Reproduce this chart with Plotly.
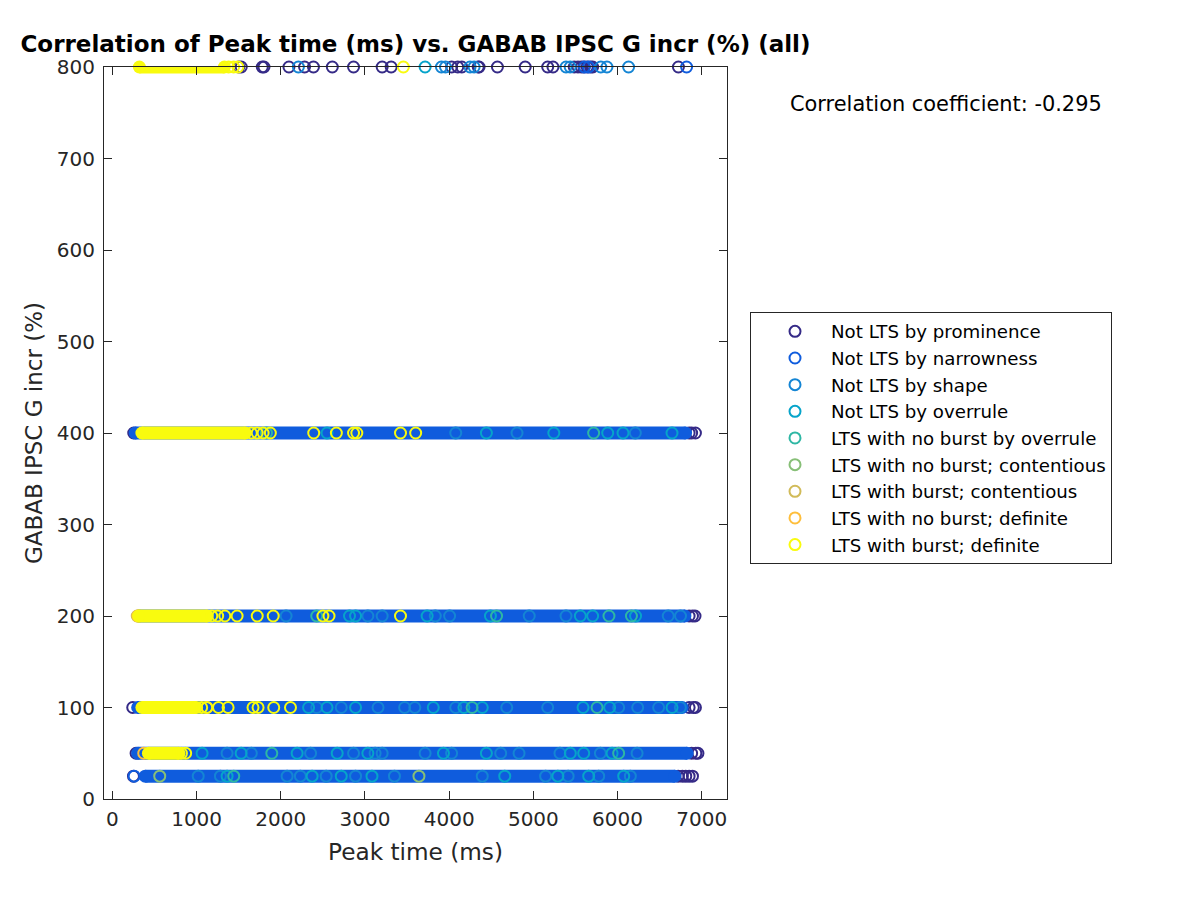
import plotly.graph_objects as go

# ---------------- data ----------------
class_names = [
    "Not LTS by prominence",
    "Not LTS by narrowness",
    "Not LTS by shape",
    "Not LTS by overrule",
    "LTS with no burst by overrule",
    "LTS with no burst; contentious",
    "LTS with burst; contentious",
    "LTS with no burst; definite",
    "LTS with burst; definite",
]
class_colors = ["#352A87", "#0F5CDD", "#1485D4", "#06A4CA", "#2EB7A4",
                "#87BF77", "#D1BB59", "#FEBE3C", "#F9FB0E"]

# dense runs of "Not LTS by narrowness" points (continuous band per level)
narrow_levels = [25, 50, 100, 200, 400]
narrow_start = [390, 300, 300, 310, 270]
narrow_end = [6680, 6826, 6767, 6800, 6808]

# dense runs of "LTS with burst; definite" points
definite_levels = [50, 100, 200, 400, 800]
definite_start = [428, 350, 311, 350, 320]
definite_end = [790, 1000, 1126, 1580, 1330]

# sparse points, per class: x = peak time (ms), y = GABAB IPSC G incr (%)
prominence_x = [1500, 1530, 1780, 1800, 2097, 2282, 2388, 2612, 2864, 3204, 3311,
                4029, 4102, 4150, 4345, 4355, 4573, 4903, 5170, 5233, 5485, 5530,
                5570, 5600, 5640, 5680, 5704, 6723,
                253, 6850, 6880, 6925,
                6850, 6890, 6920,
                241, 6850, 6900, 6925,
                281, 6880, 6930, 6955,
                250, 6720, 6770, 6810, 6850, 6890]
prominence_y = [800] * 28 + [400] * 4 + [200] * 3 + [100] * 4 + [50] * 4 + [25] * 6

narrowness_x = [5607, 5655, 6820, 258]
narrowness_y = [800, 800, 800, 25]

shape_x = [2209, 3908, 3956, 4248, 4296, 5388, 5437, 5801, 5874, 6131,
           4078, 4806, 6211,
           2063, 3034, 3204, 3835, 4005, 4951, 5388, 6602, 6748,
           2427, 2718, 3155, 3471, 3592, 4078, 4684, 5170, 6013, 6239, 6488, 6746,
           1362, 1650, 2354, 2864, 3120, 3204, 3714, 4029, 4612, 4830, 5316, 5796, 6232,
           1019, 1283, 2075, 2233, 2539, 2888, 3350, 4393, 5146, 5413, 5776, 6152]
shape_y = [800] * 10 + [400] * 3 + [200] * 9 + [100] * 12 + [50] * 13 + [25] * 12

overrule_x = [3714,
              2549, 4442, 5243, 5883, 6065, 6647,
              2816, 2888, 3738, 4490, 5558, 5704, 6214,
              2330, 2549, 2888, 3811, 4175, 4393, 5590, 5906, 6647,
              1065, 1529, 2194, 2670, 3034, 3932, 4442, 5439, 5598, 5935,
              1362, 2372, 2718, 3083, 4660, 5291, 5657, 6073]
overrule_y = [800] + [400] * 6 + [200] * 7 + [100] * 9 + [50] * 10 + [25] * 8

nob_overrule_x = [5716, 1830, 2427, 4563, 5898, 6165, 4272, 5757, 1893, 6013, 1441]
nob_overrule_y = [400, 400, 200, 200, 200, 200, 100, 100, 50, 50, 25]

nob_contentious_x = [562, 3641]
nob_contentious_y = [25, 25]

b_contentious_x = [295]
b_contentious_y = [200]

nob_definite_x = [372, 305, 1124]
nob_definite_y = [50, 200, 100]

b_definite_x = [1380, 1440, 1490, 3456,
                1650, 1720, 1790, 1876, 2391, 2660, 2864, 2903, 3422, 3602,
                1180, 1250, 1335, 1481, 1720, 1910, 2500, 2573, 3422,
                1060, 1120, 1260, 1374, 1670, 1730, 1916, 2115,
                820, 870]
b_definite_y = [800] * 4 + [400] * 10 + [200] * 9 + [100] * 8 + [50] * 2

corr_coef = -0.295
x_ticks = [0, 1000, 2000, 3000, 4000, 5000, 6000, 7000]
y_ticks = [0, 100, 200, 300, 400, 500, 600, 700, 800]

# ---------------- figure ----------------
FONT = "DejaVu Sans"
AX = "#262626"
MSIZE = 11
MLW = 2
BAND_W = 13

# the page body adds an 8 px offset, so the figure is 8 px smaller and shifted
W, H = 1192, 892
ML, MT = 96, 59
PW, PH = 623, 732

points = [
    (prominence_x, prominence_y),
    (narrowness_x, narrowness_y),
    (shape_x, shape_y),
    (overrule_x, overrule_y),
    (nob_overrule_x, nob_overrule_y),
    (nob_contentious_x, nob_contentious_y),
    (b_contentious_x, b_contentious_y),
    (nob_definite_x, nob_definite_y),
    (b_definite_x, b_definite_y),
]


def band_trace(levels, starts, ends, color):
    xs, ys = [], []
    for lv, a, b in zip(levels, starts, ends):
        xs += [a, b, None]
        ys += [lv, lv, None]
    return go.Scatter(x=xs, y=ys, mode="lines+markers",
                      line=dict(color=color, width=BAND_W),
                      marker=dict(symbol="circle", size=BAND_W, color=color,
                                  line=dict(width=0)),
                      showlegend=False, hoverinfo="skip", cliponaxis=False)


fig = go.Figure()
for i, (name, col) in enumerate(zip(class_names, class_colors)):
    if i == 1:
        fig.add_trace(band_trace(narrow_levels, narrow_start, narrow_end, col))
    if i == 8:
        fig.add_trace(band_trace(definite_levels, definite_start, definite_end, col))
    px_, py_ = points[i]
    fig.add_trace(go.Scatter(
        x=px_, y=py_, mode="markers", name=name,
        marker=dict(symbol="circle-open", size=MSIZE, color=col,
                    line=dict(width=MLW, color=col)),
        cliponaxis=False,
    ))

axis_common = dict(
    ticks="inside", ticklen=8, tickwidth=1, tickcolor=AX,
    showline=True, linecolor=AX, linewidth=1, mirror="ticks",
    showgrid=False, zeroline=False,
    tickfont=dict(family=FONT, size=20, color=AX),
    layer="above traces",
)

fig.update_layout(
    width=W, height=H,
    margin=dict(l=ML, r=W - ML - PW, t=MT, b=H - MT - PH, autoexpand=False),
    paper_bgcolor="white", plot_bgcolor="white",
    font=dict(family=FONT, color=AX),
    title=dict(text="Correlation of Peak time (ms) vs. GABAB IPSC G incr (%) (all)",
               x=0.5, xref="paper", xanchor="center",
               y=1 - 36 / H, yref="container", yanchor="middle",
               font=dict(family=FONT, size=23, color="black", weight="bold")),
    xaxis=dict(range=[-100, 7300], tickvals=x_ticks, ticklabelstandoff=2,
               title=dict(text="Peak time (ms)", standoff=13,
                          font=dict(family=FONT, size=23.2, color=AX)),
               **axis_common),
    yaxis=dict(range=[0, 800], tickvals=y_ticks, ticklabelstandoff=4,
               title=dict(text="GABAB IPSC G incr (%)", standoff=7,
                          font=dict(family=FONT, size=23, color=AX)),
               **axis_common),
    legend=dict(x=(750 - 104) / PW, y=(799 - 312) / PH, xanchor="left", yanchor="top",
                bordercolor=AX, borderwidth=1, bgcolor="white",
                font=dict(family=FONT, size=18.2, color="black"),
                itemwidth=62, indentation=8, entrywidth=290, entrywidthmode="pixels"),
    annotations=[dict(text=f"Correlation coefficient: {corr_coef}",
                      xref="paper", yref="paper",
                      x=(788 - 104) / PW, y=(799 - 104) / PH,
                      xanchor="left", yanchor="middle", showarrow=False,
                      font=dict(family=FONT, size=20.9, color="black"))],
)

fig.write_html("out.html")
